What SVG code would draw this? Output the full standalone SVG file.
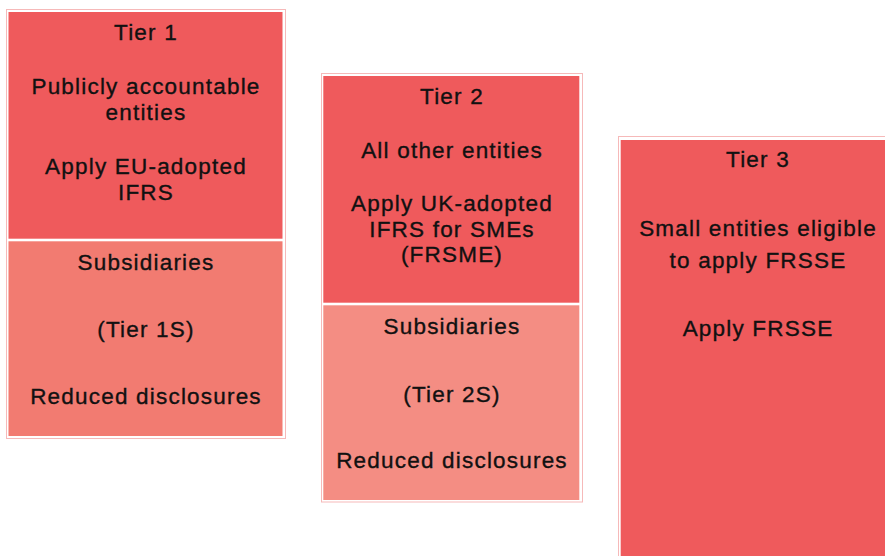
<svg xmlns="http://www.w3.org/2000/svg" width="885" height="556" viewBox="0 0 885 556">
  <style>
    .frame { fill: none; stroke: #F6B9B9; stroke-width: 1; }
    .tier { fill: #EF5A5C; }
    .sub1 { fill: #F27B71; }
    .sub2 { fill: #F48D83; }
    text { font-family: "Liberation Sans", Arial, Helvetica, sans-serif; font-size: 22.5px; letter-spacing: 1.2px; fill: #111; stroke: #111; stroke-width: 0.35px; text-anchor: middle; }
  </style>
  <rect width="885" height="556" fill="#ffffff"/>

  <!-- Column 1 -->
  <g id="tier1">
    <rect class="frame" x="6.5" y="9.5" width="279" height="429"/>
    <rect class="tier" x="8.5" y="12" width="274" height="226.7"/>
    <text x="146" y="40">Tier 1</text>
    <text x="146" y="94">Publicly accountable</text>
    <text x="146" y="119.5">entities</text>
    <text x="146" y="174">Apply EU-adopted</text>
    <text x="146" y="199.5">IFRS</text>
  </g>
  <g id="tier1s">
    <rect class="sub1" x="8.5" y="241.3" width="274" height="194.7"/>
    <text x="146" y="270">Subsidiaries</text>
    <text x="146" y="336.5">(Tier 1S)</text>
    <text x="146" y="403.5">Reduced disclosures</text>
  </g>

  <!-- Column 2 -->
  <g id="tier2">
    <rect class="frame" x="321.5" y="73.5" width="261" height="428.5"/>
    <rect class="tier" x="323.3" y="76" width="256" height="226.7"/>
    <text x="452" y="103.5">Tier 2</text>
    <text x="452" y="157.5">All other entities</text>
    <text x="452" y="211">Apply UK-adopted</text>
    <text x="452" y="236.5">IFRS for SMEs</text>
    <text x="452" y="262">(FRSME)</text>
  </g>
  <g id="tier2s">
    <rect class="sub2" x="323.3" y="305.3" width="256" height="194.7"/>
    <text x="452" y="333.5">Subsidiaries</text>
    <text x="452" y="401.5">(Tier 2S)</text>
    <text x="452" y="467.5">Reduced disclosures</text>
  </g>

  <!-- Column 3 -->
  <g id="tier3">
    <rect class="frame" x="618.5" y="136.5" width="280" height="430"/>
    <rect class="tier" x="620.7" y="140" width="274" height="420"/>
    <text x="758" y="167">Tier 3</text>
    <text x="758" y="235.5">Small entities eligible</text>
    <text x="758" y="267.5">to apply FRSSE</text>
    <text x="758" y="335.5">Apply FRSSE</text>
  </g>

  <g id="connectors"/>
</svg>
